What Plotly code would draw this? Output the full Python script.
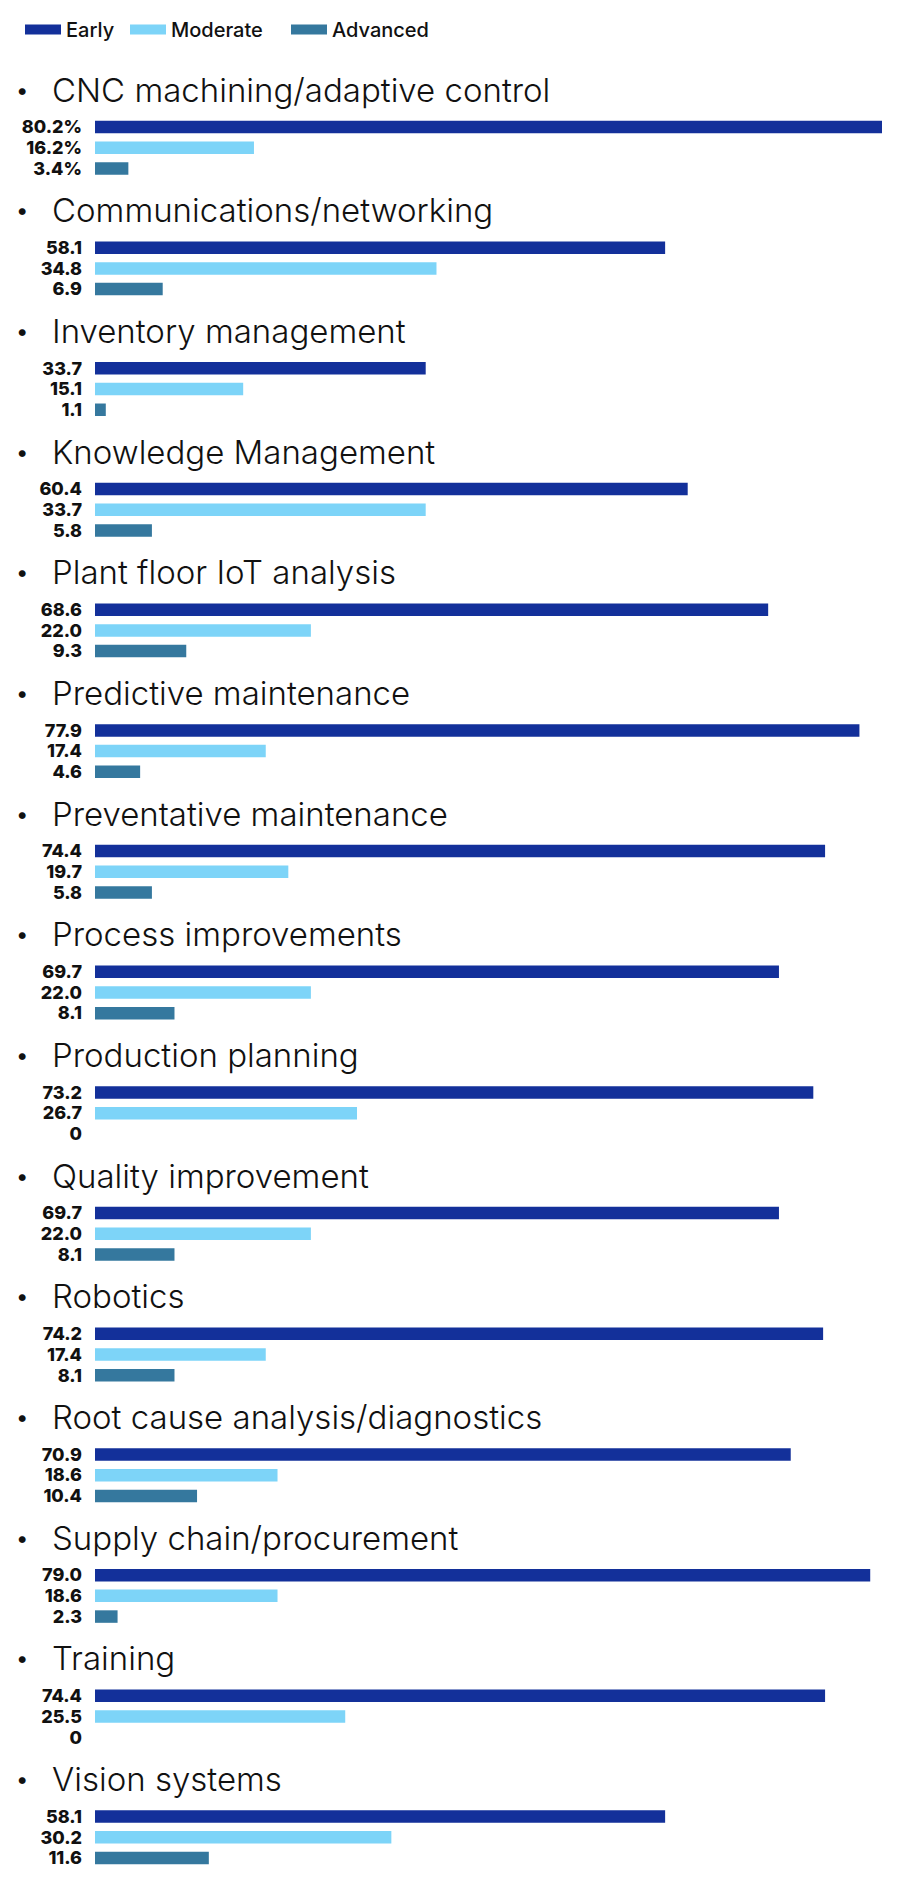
import plotly.graph_objects as go

categories = [
    "CNC machining/adaptive control",
    "Communications/networking",
    "Inventory management",
    "Knowledge Management",
    "Plant floor IoT analysis",
    "Predictive maintenance",
    "Preventative maintenance",
    "Process improvements",
    "Production planning",
    "Quality improvement",
    "Robotics",
    "Root cause analysis/diagnostics",
    "Supply chain/procurement",
    "Training",
    "Vision systems",
]
series_names = ["Early", "Moderate", "Advanced"]
early = [80.2, 58.1, 33.7, 60.4, 68.6, 77.9, 74.4, 69.7, 73.2, 69.7, 74.2, 70.9, 79.0, 74.4, 58.1]
moderate = [16.2, 34.8, 15.1, 33.7, 22.0, 17.4, 19.7, 22.0, 26.7, 22.0, 17.4, 18.6, 18.6, 25.5, 30.2]
advanced = [3.4, 6.9, 1.1, 5.8, 9.3, 4.6, 5.8, 8.1, 0, 8.1, 8.1, 10.4, 2.3, 0, 11.6]
colors = ["#13309a", "#7dd4f8", "#35789e"]

W, H = 913, 1891
FIRST_BAR = 127.0
GROUP_PITCH = 120.68
BAR_PITCH = 20.7
TITLE_OFFSET = -37.5
X0_PX = 95
X_END_PX = 882
LEGEND_X_PX = [20, 125, 286]
legend_ids = ["legend", "legend2", "legend3"]

def fmt(v, first):
    if v == 0:
        return "0"
    s = f"{v:.1f}"
    return s + "%" if first else s

fig = go.Figure()
tickvals, ticktext = [], []
for j, (name, vals) in enumerate(zip(series_names, [early, moderate, advanced])):
    ys = [FIRST_BAR + GROUP_PITCH * k + BAR_PITCH * j for k in range(len(categories))]
    fig.add_trace(go.Bar(
        x=vals, y=ys, orientation="h", name=name, legendgroup=name, showlegend=False,
        marker=dict(color=colors[j], line=dict(width=0)),
        width=12.5, hoverinfo="x+name",
    ))
    # legend entry (wide rectangular key like the original)
    fig.add_trace(go.Scatter(
        x=[None], y=[None], mode="lines", name=name, legendgroup=name,
        legend=legend_ids[j],
        line=dict(color=colors[j], width=10), hoverinfo="skip",
    ))
    for k, v in enumerate(vals):
        tickvals.append(ys[k])
        ticktext.append(fmt(v, k == 0))

xmax = early[0] * (W - X0_PX) / (X_END_PX - X0_PX)

for k, cat in enumerate(categories):
    yc = FIRST_BAR + GROUP_PITCH * k + TITLE_OFFSET
    fig.add_annotation(x=22 / W, xref="paper", y=yc, yref="y", text="•",
                       showarrow=False, xanchor="center", yanchor="middle",
                       font=dict(family="Inter", size=22, color="#111111"))
    fig.add_annotation(x=50 / W, xref="paper", y=yc, yref="y", text=cat,
                       showarrow=False, xanchor="left", yanchor="middle",
                       font=dict(family="Inter", size=33, color="#111111", weight=300))

legend_style = dict(orientation="h", xanchor="left", y=1 - 10 / H, yanchor="top",
                    font=dict(family="Inter", size=20, color="#111111", weight=500),
                    itemwidth=36, bgcolor="rgba(0,0,0,0)")
layout_legends = {lid: dict(x=LEGEND_X_PX[i] / W, **legend_style) for i, lid in enumerate(legend_ids)}

fig.update_layout(
    width=W, height=H,
    margin=dict(l=0, r=0, t=0, b=0, autoexpand=False),
    plot_bgcolor="white", paper_bgcolor="white",
    barmode="overlay",
    showlegend=True,
    xaxis=dict(domain=[X0_PX / W, 1], range=[0, xmax], showgrid=False, zeroline=False,
               showticklabels=False, showline=False, fixedrange=True, automargin=False),
    yaxis=dict(range=[H, 0], showgrid=False, zeroline=False, showline=False,
               tickmode="array", tickvals=tickvals, ticktext=ticktext,
               ticks="", ticklabelstandoff=12, automargin=False,
               tickfont=dict(family="Inter", size=18, color="#111111", weight=800),
               fixedrange=True),
    **layout_legends,
)

fig.write_html("out.html", config={"displayModeBar": False},
               post_script="document.body.style.margin='0px';")
